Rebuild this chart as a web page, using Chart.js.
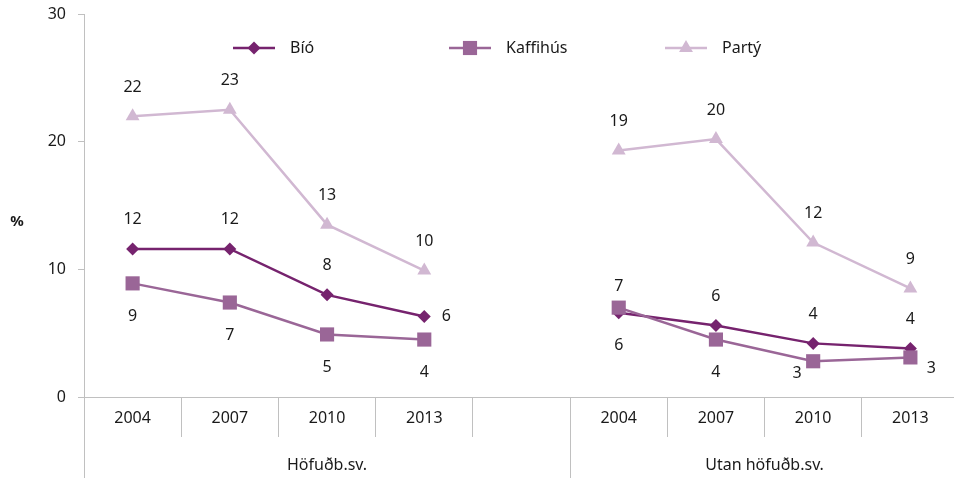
<!DOCTYPE html>
<html>
<head>
<meta charset="utf-8">
<script src="https://cdn.jsdelivr.net/npm/chart.js@4/dist/chart.umd.min.js"></script>
<style>
  html, body { margin: 0; padding: 0; background: #fff; overflow: hidden; }
  canvas { display: block; }
</style>
</head>
<body>
<canvas id="chart" width="969" height="478"></canvas>
<script>
// data
const categories = ['2004', '2007', '2010', '2013', '', '2004', '2007', '2010', '2013'];
const groups = ['Höfuðb.sv.', 'Utan höfuðb.sv.'];
const groupSpans = [[0, 4], [5, 8]];
const bio = [11.6, 11.6, 8.0, 6.3, null, 6.6, 5.6, 4.2, 3.8];
const kaffihus = [8.9, 7.4, 4.9, 4.5, null, 7.0, 4.5, 2.8, 3.1];
const party = [22.0, 22.5, 13.5, 9.9, null, 19.3, 20.2, 12.1, 8.5];
const bioLabels = [12, 12, 8, 6, null, 6, 6, 4, 4];
const kaffihusLabels = [9, 7, 5, 4, null, 7, 4, 3, 3];
const partyLabels = [22, 23, 13, 10, null, 19, 20, 12, 9];
const yTicks = [0, 10, 20, 30];

const FONT = '"Noto Sans", sans-serif';
const TEXT = '#1a1a1a';
const AXIS = '#c0c0c0';

// label placement codes -> pixel offsets
const OFFS = { a: [0, -29], as: [0, -21], b: [0, 33], r: [22, 0], bl: [-16, 12], br: [21, 11] };

const pointLabels = {
  id: 'pointLabels',
  afterDatasetsDraw(chart) {
    const ctx = chart.ctx;
    ctx.save();
    ctx.font = '16px ' + FONT;
    ctx.fillStyle = TEXT;
    ctx.textAlign = 'center';
    ctx.textBaseline = 'middle';
    chart.data.datasets.forEach((ds, i) => {
      const meta = chart.getDatasetMeta(i);
      meta.data.forEach((pt, j) => {
        const txt = ds.labels[j];
        if (txt == null || ds.data[j] == null) return;
        const o = OFFS[ds.labelPos[j]];
        ctx.fillText(String(txt), pt.x + o[0], pt.y + o[1]);
      });
    });
    ctx.restore();
  }
};

const extras = {
  id: 'extras',
  afterDraw(chart) {
    const ctx = chart.ctx;
    const x = chart.scales.x;
    const area = chart.chartArea;
    const step = x.getPixelForValue(1) - x.getPixelForValue(0);
    ctx.save();
    // group separators + group labels
    ctx.strokeStyle = AXIS;
    ctx.lineWidth = 1;
    ctx.font = '16px ' + FONT;
    ctx.fillStyle = TEXT;
    ctx.textAlign = 'center';
    ctx.textBaseline = 'middle';
    groupSpans.forEach((s, g) => {
      const left = x.getPixelForValue(s[0]) - step / 2;
      const right = x.getPixelForValue(s[1]) + step / 2;
      const lx = Math.round(left) + 0.5;
      ctx.beginPath();
      ctx.moveTo(lx, area.bottom);
      ctx.lineTo(lx, chart.height);
      ctx.stroke();
      ctx.fillText(groups[g], (left + right) / 2, area.bottom + 68);
    });
    // % title
    ctx.font = 'bold 15px ' + FONT;
    ctx.fillText('%', 17, 222);
    // legend
    ctx.font = '16px ' + FONT;
    ctx.textAlign = 'left';
    const lx0 = [233, 449, 665];
    chart.data.datasets.forEach((ds, i) => {
      const x0 = lx0[i], y0 = 48;
      ctx.strokeStyle = ds.borderColor;
      ctx.lineWidth = ds.borderWidth;
      ctx.beginPath();
      ctx.moveTo(x0, y0);
      ctx.lineTo(x0 + 42, y0);
      ctx.stroke();
      ctx.fillStyle = ds.borderColor;
      Chart.helpers.drawPoint(ctx, {
        pointStyle: ds.pointStyle, radius: ds.pointRadius, rotation: 0, borderWidth: 0
      }, x0 + 21, y0);
      ctx.fillStyle = TEXT;
      ctx.fillText(ds.label, x0 + 57, y0);
    });
    ctx.restore();
  }
};

function series(label, data, labels, color, style, radius, order, pos) {
  return {
    label, data, labels, labelPos: pos, order,
    borderColor: color, backgroundColor: color,
    pointBackgroundColor: color, pointBorderColor: color, pointBorderWidth: 0,
    pointStyle: style, pointRadius: radius, pointHoverRadius: radius,
    borderWidth: 2.5, tension: 0, spanGaps: false
  };
}

new Chart(document.getElementById('chart'), {
  type: 'line',
  data: {
    labels: categories,
    datasets: [
      series('Bíó', bio, bioLabels, '#76236e', 'rectRot', 6.5, 1,
        ['a', 'a', 'a', 'r', 'a', 'b', 'a', 'a', 'a']),
      series('Kaffihús', kaffihus, kaffihusLabels, '#9a6697', 'rect', 10, 0,
        ['b', 'b', 'b', 'b', 'b', 'as', 'b', 'bl', 'br']),
      series('Partý', party, partyLabels, '#d1b8d2', 'triangle', 8, 2,
        ['a', 'a', 'a', 'a', 'a', 'a', 'a', 'a', 'a'])
    ]
  },
  options: {
    responsive: false,
    animation: false,
    layout: { padding: { top: 14, right: 2, left: 0, bottom: 0 } },
    plugins: { legend: { display: false }, tooltip: { enabled: false } },
    scales: {
      x: {
        offset: true,
        grid: { offset: true, drawOnChartArea: false, drawTicks: true, tickLength: 40, color: AXIS },
        border: { color: AXIS },
        ticks: { color: TEXT, font: { family: FONT, size: 16 }, padding: -28, maxRotation: 0, autoSkip: false },
        afterFit: s => { s.height = 81; s.paddingLeft = 0; s.paddingRight = 0; }
      },
      y: {
        min: 0, max: 30,
        afterBuildTicks: s => { s.ticks = yTicks.map(v => ({ value: v })); },
        grid: { drawOnChartArea: false, drawTicks: true, tickLength: 6, color: AXIS },
        border: { color: AXIS },
        ticks: { color: TEXT, font: { family: FONT, size: 16 }, padding: 12 },
        afterFit: s => { s.width = 84; s.paddingTop = 0; s.paddingBottom = 0; }
      }
    }
  },
  plugins: [pointLabels, extras]
});
</script>
</body>
</html>
